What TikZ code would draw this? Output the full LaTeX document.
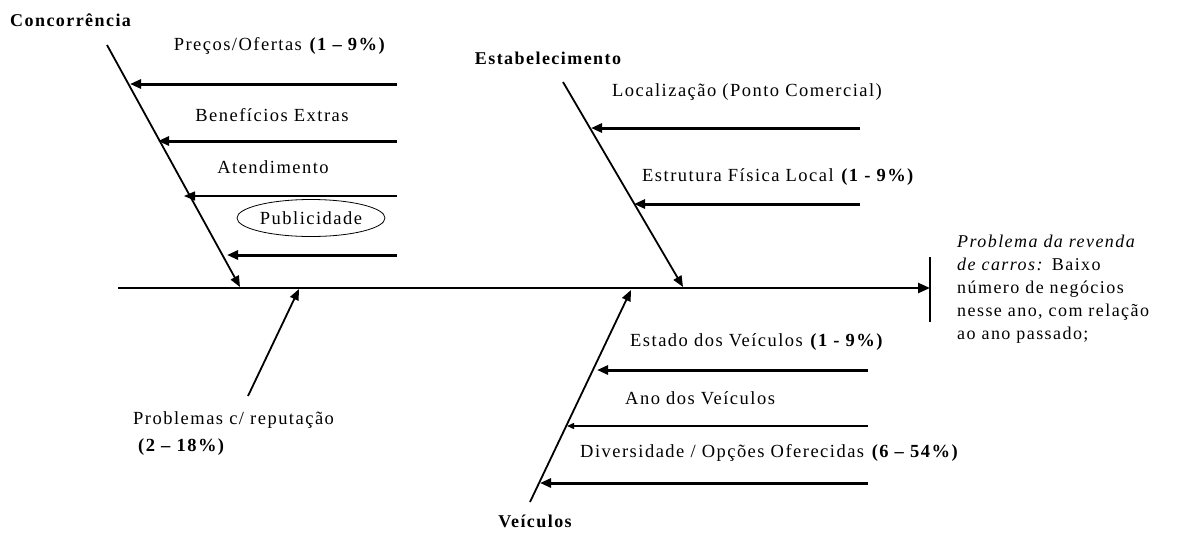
\documentclass[tikz,border=0pt]{standalone}
\usepackage{fontspec}
\setmainfont{Liberation Serif}[LetterSpace=8]
\usetikzlibrary{arrows.meta,shapes.geometric}
\begin{document}
\begin{tikzpicture}[x=1pt,y=-1pt,
  lbl/.style={font=\fontsize{18.5}{23}\selectfont, inner sep=0pt},
  hdr/.style={font=\fontsize{18}{22}\selectfont\bfseries, inner sep=0pt},
  tip/.style={-{Triangle[length=11pt,width=9pt]}},
  smalltip/.style={-{Triangle[length=7pt,width=6pt]}},
  bone/.style={tip, line width=1.8pt},
  thickbranch/.style={tip, line width=3pt},
  thinbranch/.style={tip, line width=1.4pt},
  spine/.style={-{Triangle[length=12pt,width=10pt]}, line width=2.5pt}
]
\useasboundingbox (0,0) rectangle (1182,533);

% spine
\coordinate (s0) at (118,288);
\coordinate (s1) at (930,288);
\coordinate (v0) at (930,257);
\coordinate (v1) at (930,322);
\draw[spine] (s0) -- (s1);
\draw[line width=1.3pt] (v0) -- (v1);

% Concorrencia
\node[hdr, anchor=west] (conc) at (10,20) {Concorrência};
\coordinate (c0) at (107,45);
\coordinate (c1) at (240,287);
\draw[bone] (c0) -- (c1);
\coordinate (ca0) at (397,84);  \coordinate (ca1) at (130,84);
\coordinate (cb0) at (397,141); \coordinate (cb1) at (158,141);
\coordinate (cc0) at (397,196); \coordinate (cc1) at (184,196);
\coordinate (cd0) at (397,255); \coordinate (cd1) at (227,255);
\draw[thickbranch] (ca0) -- (ca1);
\draw[thickbranch] (cb0) -- (cb1);
\draw[thinbranch] (cc0) -- (cc1);
\draw[thickbranch] (cd0) -- (cd1);
\node[lbl] (precos) at (280,46) {Preços/Ofertas \textbf{(1 – 9\%)}};
\node[lbl] (benef) at (272,115) {Benefícios Extras};
\node[lbl] (atend) at (273,167) {Atendimento};
\node[lbl, draw, ellipse, line width=0.8pt, minimum width=148pt, minimum height=37pt, inner sep=0pt] (publ) at (311,218) {Publicidade};

% Estabelecimento
\node[hdr] (estab) at (548,58) {Estabelecimento};
\coordinate (e0) at (563,82);
\coordinate (e1) at (683,287);
\draw[bone] (e0) -- (e1);
\coordinate (ea0) at (860,128); \coordinate (ea1) at (591,128);
\coordinate (eb0) at (860,204); \coordinate (eb1) at (634,204);
\draw[thickbranch] (ea0) -- (ea1);
\draw[thickbranch] (eb0) -- (eb1);
\node[lbl, anchor=west] (local) at (612,92) {Localização (Ponto Comercial)};
\node[lbl, anchor=west] (estr) at (642,177) {Estrutura Física Local \textbf{(1 - 9\%)}};

% Veiculos
\node[hdr] (veic) at (535,521) {Veículos};
\coordinate (w0) at (530,502);
\coordinate (w1) at (631,290);
\draw[bone] (w0) -- (w1);
\coordinate (wa0) at (868,370); \coordinate (wa1) at (597,370);
\coordinate (wb0) at (868,426); \coordinate (wb1) at (567,426);
\coordinate (wc0) at (868,483); \coordinate (wc1) at (540,483);
\draw[thickbranch] (wa0) -- (wa1);
\draw[line width=1.4pt, smalltip] (wb0) -- (wb1);
\draw[thickbranch] (wc0) -- (wc1);
\node[lbl, anchor=west] (estado) at (630,342) {Estado dos Veículos \textbf{(1 - 9\%)}};
\node[lbl, anchor=west] (ano) at (625,398) {Ano dos Veículos};
\node[lbl, anchor=west] (divers) at (580,453) {Diversidade / Opções Oferecidas \textbf{(6 – 54\%)}};

% Problemas c/ reputacao
\coordinate (r0) at (248,396);
\coordinate (r1) at (299,289);
\draw[bone] (r0) -- (r1);
\node[lbl, anchor=west] (rep) at (133,420) {Problemas c/ reputação};
\node[lbl, anchor=west] (reppct) at (138,447) {\textbf{(2 – 18\%)}};

% effect
\node[lbl, anchor=north west, align=left, font=\fontsize{18}{23}\selectfont] (effect) at (957,235)
 {\textit{Problema da revenda}\\ \textit{de carros:} Baixo\\ número de negócios\\ nesse ano, com relação\\ ao ano passado;};
\end{tikzpicture}
\end{document}
